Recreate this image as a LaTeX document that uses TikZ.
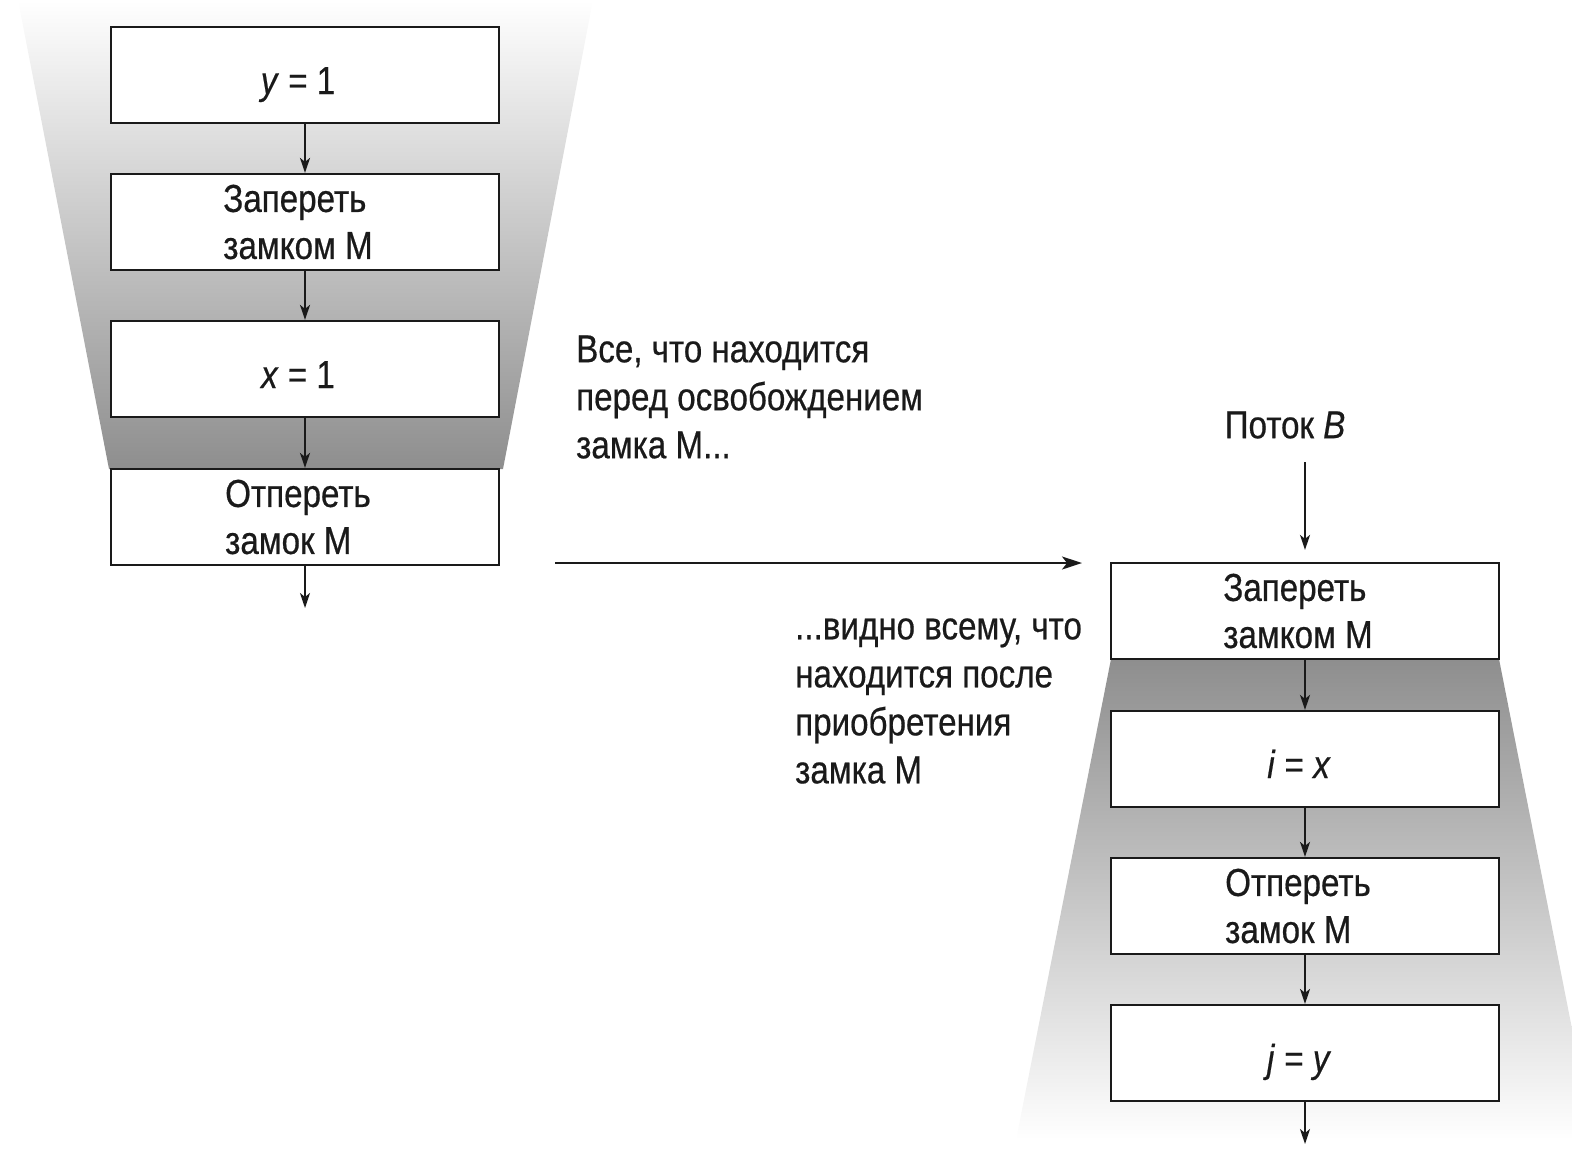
\documentclass[tikz,border=0pt]{standalone}
\usepackage{fontspec}
\setmainfont[FakeStretch=0.85,FakeBold=0.5]{Liberation Sans}
\usetikzlibrary{arrows.meta}
\definecolor{shadegray}{HTML}{8E8E8E}
\definecolor{ink}{HTML}{1A1A1A}
\tikzset{
  stepbox/.style={draw=ink, line width=2.2bp, fill=white, minimum width=388bp, minimum height=96bp,
    inner sep=0pt},
  boxtext/.style={inner sep=0pt, align=left, font=\fontsize{39bp}{47bp}\selectfont, text=ink},
  onetext/.style={boxtext, text height=38bp, text depth=0pt},
  flowarrow/.style={draw=ink, line width=1.8bp, -{Stealth[length=15bp,width=10bp,inset=4bp]}},
  bigarrow/.style={draw=ink, line width=1.8bp, -{Stealth[length=20bp,width=13bp,inset=5bp]}},
  note/.style={align=left, inner sep=0pt, font=\fontsize{39bp}{48bp}\selectfont, text=ink},
}
\begin{document}
\begin{tikzpicture}[x=1bp,y=-1bp]
\useasboundingbox (0,0) rectangle (1572,1174);
\begin{scope}
\clip (0,0) rectangle (1572,1174);
\shade[top color=white, bottom color=shadegray] (18,0) -- (593,0) -- (503,469) -- (109,469) -- cycle;
\shade[top color=shadegray, bottom color=white] (1111,659) -- (1499,659) -- (1594,1140) -- (1016,1140) -- cycle;
\end{scope}

% left column
\node[stepbox] (a1) at (305,75) {};
\node[stepbox] (a2) at (305,222) {};
\node[stepbox] (a3) at (305,369) {};
\node[stepbox] (a4) at (305,517) {};
\node[onetext] (a1t) at ([xshift=-7bp]a1.center) {\textit{y} = 1};
\node[boxtext] (a2t) at ([xshift=-7bp]a2.center) {Запереть\\замком М};
\node[onetext] (a3t) at ([xshift=-7bp]a3.center) {\textit{x} = 1};
\node[boxtext] (a4t) at ([xshift=-7bp]a4.center) {Отпереть\\замок М};
\coordinate (aend) at (305,608);
\draw[flowarrow] (a1.south) -- (a2.north);
\draw[flowarrow] (a2.south) -- (a3.north);
\draw[flowarrow] (a3.south) -- (a4.north);
\draw[flowarrow] (a4.south) -- (aend);

% right column
\node[note] (thr) at (1285,425) {Поток \textit{B}};
\coordinate (bstart) at (1305,462);
\node[stepbox] (b1) at (1305,611) {};
\node[stepbox] (b2) at (1305,759) {};
\node[stepbox] (b3) at (1305,906) {};
\node[stepbox] (b4) at (1305,1053) {};
\node[boxtext] (b1t) at ([xshift=-7bp]b1.center) {Запереть\\замком М};
\node[onetext] (b2t) at ([xshift=-6bp]b2.center) {\textit{i} = \textit{x}};
\node[boxtext] (b3t) at ([xshift=-7bp]b3.center) {Отпереть\\замок М};
\node[onetext] (b4t) at ([xshift=-6bp]b4.center) {\textit{j} = \textit{y}};
\coordinate (bend) at (1305,1144);
\draw[flowarrow, shorten >=12bp] (bstart) -- (b1.north);
\draw[flowarrow] (b1.south) -- (b2.north);
\draw[flowarrow] (b2.south) -- (b3.north);
\draw[flowarrow] (b3.south) -- (b4.north);
\draw[flowarrow] (b4.south) -- (bend);

% notes
\node[note, anchor=west] (n1) at (576,397) {Все, что находится\\перед освобождением\\замка М...};
\node[note, anchor=west] (n2) at (795,701) {...видно всему, что\\находится после\\приобретения\\замка М};
\coordinate (hstart) at (555,563);
\coordinate (hend) at (1082,563);
\draw[bigarrow] (hstart) -- (hend);
\end{tikzpicture}
\end{document}
